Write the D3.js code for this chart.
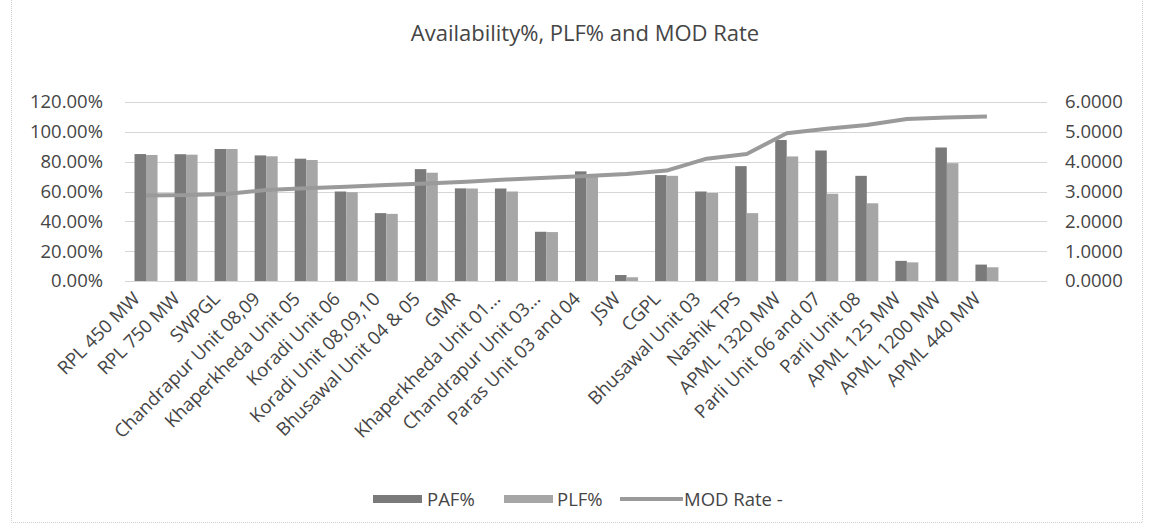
<!DOCTYPE html>
<html>
<head>
<meta charset="utf-8">
<script src="https://cdn.jsdelivr.net/npm/d3@7"></script>
<style>
  html, body { margin: 0; padding: 0; background: #ffffff; }
  svg { display: block; font-family: "Open Sans", "Noto Sans", sans-serif; }
</style>
</head>
<body>
<svg id="chart" width="1149" height="529"></svg>
<script>
// ---- data ----
const categories = [
  "RPL 450 MW", "RPL 750 MW", "SWPGL", "Chandrapur Unit 08,09", "Khaperkheda Unit 05",
  "Koradi Unit 06", "Koradi Unit 08,09,10", "Bhusawal Unit 04 & 05", "GMR",
  "Khaperkheda Unit 01...", "Chandrapur Unit 03...", "Paras Unit 03 and 04", "JSW",
  "CGPL", "Bhusawal Unit 03", "Nashik TPS", "APML 1320 MW", "Parli Unit 06 and 07",
  "Parli Unit 08", "APML 125 MW", "APML 1200 MW", "APML 440 MW"
];
const pafValues = [0.851, 0.850, 0.885, 0.842, 0.820, 0.600, 0.455, 0.750, 0.621,
  0.620, 0.330, 0.735, 0.040, 0.710, 0.600, 0.770, 0.945, 0.875, 0.705, 0.135, 0.895, 0.110];
const plfValues = [0.845, 0.847, 0.885, 0.836, 0.811, 0.595, 0.450, 0.726, 0.620,
  0.600, 0.328, 0.710, 0.025, 0.705, 0.590, 0.455, 0.835, 0.585, 0.521, 0.125, 0.790, 0.092];
const modValues = [2.87, 2.88, 2.92, 3.05, 3.11, 3.16, 3.22, 3.27, 3.33, 3.40, 3.46,
  3.52, 3.59, 3.70, 4.10, 4.26, 4.95, 5.10, 5.23, 5.43, 5.48, 5.51];
const leftTicks = [0, 0.2, 0.4, 0.6, 0.8, 1.0, 1.2];
const rightTicks = [0, 1, 2, 3, 4, 5, 6];
const seriesNames = ["PAF%", "PLF%", "MOD Rate -"];
const title = "Availability%, PLF% and MOD Rate";

// ---- chart ----
const svg = d3.select("#chart");
const colPAF = "#7a7a7a", colPLF = "#a6a6a6", colLine = "#9a9a9a", colText = "#454545", colGrid = "#d6d6d6";
const fs = 18.5;

// outer chart border
svg.append("rect").attr("x", 11.5).attr("y", -2).attr("width", 1131).attr("height", 524.5)
  .attr("fill", "none").attr("stroke", "#d0d0d0").attr("stroke-dasharray", "1,1");

const x = d3.scaleBand().domain(categories.concat([""])).range([126, 1047]).padding(0);
const yL = d3.scaleLinear().domain([0, 1.2]).range([281, 102]);
const yR = d3.scaleLinear().domain([0, 6]).range([281, 102]);

// title
svg.append("text").attr("x", 585).attr("y", 41).attr("text-anchor", "middle")
  .attr("font-size", 22).attr("fill", colText).text(title);

// gridlines
svg.append("g").selectAll("line").data(leftTicks.filter(d => d > 0)).join("line")
  .attr("x1", 125).attr("x2", 1047)
  .attr("y1", d => Math.round(yL(d)) + 0.5).attr("y2", d => Math.round(yL(d)) + 0.5)
  .attr("stroke", colGrid).attr("stroke-width", 1);

// left axis
const gL = svg.append("g").attr("transform", "translate(105,0)")
  .call(d3.axisLeft(yL).tickValues(leftTicks).tickFormat(d3.format(".2%")).tickSize(0).tickPadding(2));
gL.select(".domain").remove();
gL.selectAll("text").attr("font-size", fs).attr("fill", colText).attr("font-family", "Open Sans");

// right axis
const gR = svg.append("g").attr("transform", "translate(1063,0)")
  .call(d3.axisRight(yR).tickValues(rightTicks).tickFormat(d3.format(".4f")).tickSize(0).tickPadding(2));
gR.select(".domain").remove();
gR.selectAll("text").attr("font-size", fs).attr("fill", colText).attr("font-family", "Open Sans");

// bars
const bw = 11.5;
const barG = svg.append("g");
barG.selectAll("rect.paf").data(categories).join("rect").attr("class", "paf")
  .attr("x", (d) => x(d) + x.bandwidth() / 2 - bw)
  .attr("y", (d, i) => yL(pafValues[i]))
  .attr("width", bw)
  .attr("height", (d, i) => yL(0) - yL(pafValues[i]))
  .attr("fill", colPAF);
barG.selectAll("rect.plf").data(categories).join("rect").attr("class", "plf")
  .attr("x", (d) => x(d) + x.bandwidth() / 2)
  .attr("y", (d, i) => yL(plfValues[i]))
  .attr("width", bw)
  .attr("height", (d, i) => yL(0) - yL(plfValues[i]))
  .attr("fill", colPLF);

// x axis line
svg.append("line").attr("x1", 125).attr("x2", 1047).attr("y1", 281.5).attr("y2", 281.5)
  .attr("stroke", colGrid).attr("stroke-width", 1);

// MOD line
const line = d3.line().x((d, i) => x(categories[i]) + x.bandwidth() / 2).y(d => yR(d));
svg.append("path").datum(modValues).attr("d", line)
  .attr("fill", "none").attr("stroke", colLine).attr("stroke-width", 4).attr("stroke-linejoin", "round");

// category labels
svg.append("g").selectAll("text").data(categories).join("text")
  .attr("transform", d => `translate(${x(d) + x.bandwidth() / 2 - 5},${300}) rotate(-45)`)
  .attr("text-anchor", "end").attr("font-size", fs).attr("fill", colText)
  .text(d => d);

// legend
const lg = svg.append("g");
lg.append("rect").attr("x", 373).attr("y", 495).attr("width", 49).attr("height", 8).attr("fill", colPAF);
lg.append("text").attr("x", 427).attr("y", 506).attr("font-size", fs).attr("fill", colText).text(seriesNames[0]);
lg.append("rect").attr("x", 504).attr("y", 495).attr("width", 49).attr("height", 8).attr("fill", colPLF);
lg.append("text").attr("x", 557).attr("y", 506).attr("font-size", fs).attr("fill", colText).text(seriesNames[1]);
lg.append("line").attr("x1", 620).attr("x2", 683).attr("y1", 499).attr("y2", 499)
  .attr("stroke", colLine).attr("stroke-width", 4);
lg.append("text").attr("x", 684).attr("y", 506).attr("font-size", fs).attr("fill", colText).text(seriesNames[2]);
</script>
</body>
</html>
